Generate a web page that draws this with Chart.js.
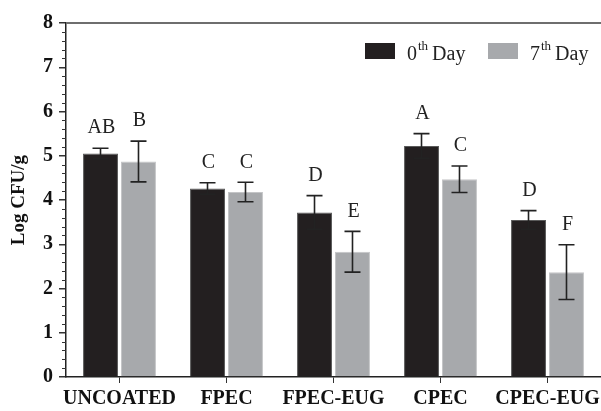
<!DOCTYPE html>
<html>
<head>
<meta charset="utf-8">
<script src="https://cdn.jsdelivr.net/npm/chart.js@4.4.1/dist/chart.umd.min.js"></script>
<style>
  html, body { margin: 0; padding: 0; background: #fff; }
  #wrap { width: 601px; height: 411px; }
</style>
</head>
<body>
<div id="wrap"><canvas id="chart" width="601" height="411"></canvas></div>
<script>
const categories = ['UNCOATED', 'FPEC', 'FPEC-EUG', 'CPEC', 'CPEC-EUG'];
const day0Values = [5.05, 4.26, 3.72, 5.22, 3.55];
const day7Values = [4.87, 4.18, 2.83, 4.47, 2.37];
const day0Errors = [0.12, 0.13, 0.38, 0.28, 0.21];
const day7Errors = [0.46, 0.22, 0.46, 0.30, 0.62];
const day0Letters = ['AB', 'C', 'D', 'A', 'D'];
const day7Letters = ['B', 'C', 'E', 'C', 'F'];
const yMin = 0, yMax = 8;

const errors = [day0Errors, day7Errors];
const letters = [day0Letters, day7Letters];
const serif = '"Liberation Serif", "Times New Roman", serif';

// error bars + significance letters
const errorBarPlugin = {
    id: 'errorBars',
    afterDatasetsDraw(chart) {
        const ctx = chart.ctx;
        const yScale = chart.scales.y;
        ctx.save();
        chart.data.datasets.forEach((ds, di) => {
            const meta = chart.getDatasetMeta(di);
            meta.data.forEach((bar, i) => {
                const v = ds.data[i];
                const e = errors[di][i];
                const yTop = yScale.getPixelForValue(v + e);
                const yBot = yScale.getPixelForValue(v - e);
                const x = bar.x;
                ctx.strokeStyle = '#222';
                ctx.lineWidth = 1.6;
                ctx.beginPath();
                ctx.moveTo(x, yTop); ctx.lineTo(x, yBot);
                ctx.moveTo(x - 8, yTop); ctx.lineTo(x + 8, yTop);
                ctx.moveTo(x - 8, yBot); ctx.lineTo(x + 8, yBot);
                ctx.stroke();

                ctx.fillStyle = '#222';
                ctx.font = '20px ' + serif;
                ctx.textAlign = 'center';
                ctx.textBaseline = 'middle';
                ctx.fillText(letters[di][i], x + 1, yTop - 20);
            });
        });
        ctx.restore();
    }
};

// top frame line, minor ticks on y axis, legend with superscripts
const decorPlugin = {
    id: 'decor',
    afterDraw(chart) {
        const ctx = chart.ctx;
        const yScale = chart.scales.y;
        const area = chart.chartArea;
        const left = area.left;
        const topY = Math.round(area.top);
        ctx.save();
        ctx.fillStyle = '#6e6e6e';
        ctx.fillRect(left, topY - 1, area.right - left, 2);

        ctx.strokeStyle = '#333';
        ctx.lineWidth = 1;
        for (let v = yMin; v <= yMax + 1e-9; v += 0.2) {
            if (Math.abs(v - Math.round(v)) < 1e-6) continue;
            const y = Math.round(yScale.getPixelForValue(v)) + 0.5;
            ctx.beginPath();
            ctx.moveTo(left - 4, y); ctx.lineTo(left, y);
            ctx.stroke();
        }

        // legend
        const items = [
            { color: '#231f20', num: '0', x: 365 },
            { color: '#a7a9ac', num: '7', x: 488 }
        ];
        const ly = 43;
        items.forEach(it => {
            ctx.fillStyle = it.color;
            ctx.fillRect(it.x, ly, 30, 16);
            let tx = it.x + 42;
            ctx.fillStyle = '#222';
            ctx.textAlign = 'left';
            ctx.textBaseline = 'alphabetic';
            ctx.font = '20px ' + serif;
            ctx.fillText(it.num, tx, ly + 17);
            tx += ctx.measureText(it.num).width;
            ctx.font = '13px ' + serif;
            ctx.fillText('th', tx + 1, ly + 7);
            tx += ctx.measureText('th').width + 5;
            ctx.font = '20px ' + serif;
            ctx.fillText('Day', tx, ly + 17);
        });
        ctx.restore();
    }
};

new Chart(document.getElementById('chart').getContext('2d'), {
    type: 'bar',
    data: {
        labels: categories,
        datasets: [
            {
                label: '0th Day',
                data: day0Values,
                backgroundColor: '#231f20',
                borderColor: '#5a5a5a',
                borderWidth: 1,
                categoryPercentage: 0.71,
                barPercentage: 0.92
            },
            {
                label: '7th Day',
                data: day7Values,
                backgroundColor: '#a7a9ac',
                borderColor: '#c4c5c7',
                borderWidth: 1,
                categoryPercentage: 0.71,
                barPercentage: 0.92
            }
        ]
    },
    options: {
        responsive: false,
        animation: false,
        layout: { padding: { top: 23, right: 0, left: 0, bottom: 0 } },
        plugins: {
            legend: { display: false },
            tooltip: { enabled: false }
        },
        scales: {
            x: {
                offset: true,
                grid: {
                    offset: false,
                    drawOnChartArea: false,
                    tickLength: 6,
                    color: '#333',
                    lineWidth: 1
                },
                border: { color: '#222', width: 1.5 },
                ticks: {
                    color: '#111',
                    padding: 4,
                    maxRotation: 0,
                    autoSkip: false,
                    font: { family: serif, size: 20, weight: 'bold' }
                },
                afterFit: s => { s.height = 34; s.paddingRight = 0; s.paddingLeft = 0; }
            },
            y: {
                min: yMin,
                max: yMax,
                ticks: {
                    stepSize: 1,
                    color: '#111',
                    padding: 6,
                    font: { family: serif, size: 20, weight: 'bold' }
                },
                grid: {
                    tickLength: 7,
                    drawOnChartArea: false,
                    tickColor: '#333',
                    lineWidth: 1.5
                },
                border: { color: '#222', width: 1.5 },
                title: {
                    display: true,
                    text: 'Log CFU/g',
                    color: '#111',
                    font: { family: serif, size: 19, weight: 'bold' },
                    padding: { top: 8, bottom: 0 }
                },
                afterFit: s => { s.width = 66; }
            }
        }
    },
    plugins: [errorBarPlugin, decorPlugin]
});
</script>
</body>
</html>
